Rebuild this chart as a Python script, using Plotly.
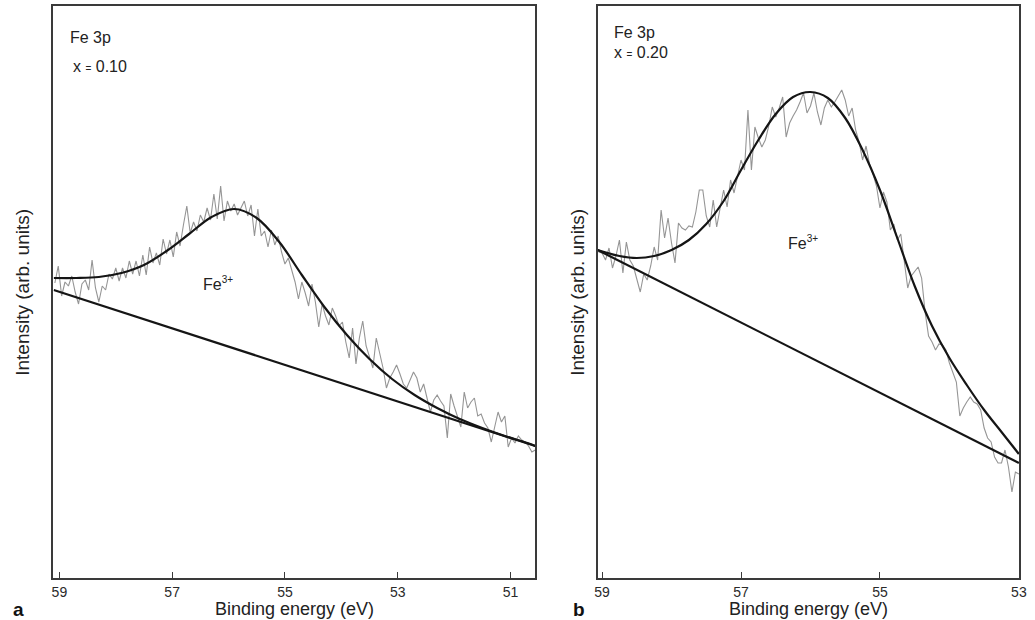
import numpy as np
import plotly.graph_objects as go

W, H = 1035, 620

# ---------------- Panel a (x = 0.10) ----------------
a_start, a_step = 59.08, 0.06
a_data = [295, 312, 282, 296, 292, 302, 286, 274, 294, 298, 288, 318, 290, 276, 292, 288, 304, 299, 310, 297,
          310, 300, 317, 304, 317, 302, 323, 303, 331, 315, 325, 313, 339, 324, 338, 321, 346, 332, 353, 372,
          345, 356, 347, 363, 356, 370, 358, 384, 359, 392, 357, 377, 367, 374, 363, 370, 377, 362, 373, 342,
          369, 342, 347, 331, 348, 333, 342, 326, 314, 320, 309, 296, 279, 296, 285, 272, 294, 276, 251, 274,
          262, 253, 270, 262, 252, 256, 236, 220, 250, 214, 240, 257, 232, 220, 210, 240, 226, 210, 190, 200,
          206, 213, 204, 194, 190, 198, 206, 200, 186, 194, 180, 166, 178, 183, 177, 172, 140, 184, 172, 162,
          151, 186, 170, 176, 180, 162, 164, 155, 150, 136, 150, 166, 156, 162, 131, 140, 135, 142, 138, 136,
          132, 126, 128]
a_fit_x = [59.1, 58.7, 58.3, 57.9, 57.5, 57.1, 56.7, 56.3, 55.9, 55.5, 55.1, 54.7, 54.3, 53.9, 53.5,
           53.1, 52.7, 52.3, 51.9, 51.5, 51.1, 50.7, 50.56]
a_fit_y = [300, 300, 301, 305, 313, 327, 344, 361, 369, 360, 336, 303, 271, 243, 219,
           199, 183, 170, 159, 150, 142, 135, 132]
a_bg_x = [59.1, 50.56]
a_bg_y = [288, 132]
a_ticks = [59, 57, 55, 53, 51]
a_range = [59.105, 50.56]

# ---------------- Panel b (x = 0.20) ----------------
b_start, b_step = 59.05, 0.05
b_data = [326, 325, 318, 330, 310, 322, 338, 305, 336, 318, 312, 300, 286, 304, 298, 312, 331, 318, 368, 340,
          360, 335, 315, 355, 350, 348, 352, 351, 366, 388, 388, 362, 351, 378, 351, 370, 388, 371, 398, 385,
          402, 418, 408, 468, 408, 451, 440, 431, 438, 452, 471, 461, 470, 481, 441, 455, 462, 468, 476, 485,
          465, 472, 485, 466, 453, 470, 478, 471, 476, 482, 488, 478, 462, 470, 448, 436, 418, 432, 414, 404,
          392, 370, 386, 376, 348, 354, 338, 344, 314, 290, 302, 306, 311, 300, 266, 242, 236, 228, 234, 233,
          228, 215, 206, 196, 162, 170, 176, 181, 176, 174, 168, 150, 140, 136, 121, 115, 115, 128, 111, 86,
          106, 104]
b_fit_x = [59.064, 58.75, 58.5, 58.25, 58.0, 57.75, 57.5, 57.25, 57.0, 56.75, 56.5, 56.25, 56.0, 55.75,
           55.5, 55.25, 55.0, 54.75, 54.5, 54.25, 54.0, 53.75, 53.5, 53.25, 53.0]
b_fit_y = [328, 322, 320, 322, 328, 338, 354, 377, 408, 438, 464, 481, 486, 480,
           460, 428, 388, 340, 292, 252, 220, 193, 168, 146, 124]
b_bg_x = [59.064, 53.0]
b_bg_y = [328, 115]
b_ticks = [59, 57, 55, 53]
b_range = [59.064, 52.997]

y_range = [0, 572]

FONT = "Liberation Sans, Arial, sans-serif"
DATA_COLOR = "#959595"
FIT_COLOR = "#151515"
AX_COLOR = "#3a3a3a"

fig = go.Figure()

def add_panel(xs, ys, fx, fy, bx, by, xa, ya):
    fig.add_trace(go.Scatter(x=xs, y=ys, mode="lines", line=dict(color=DATA_COLOR, width=1.1),
                             xaxis=xa, yaxis=ya, showlegend=False, hoverinfo="skip"))
    fig.add_trace(go.Scatter(x=bx, y=by, mode="lines", line=dict(color=FIT_COLOR, width=2.2),
                             xaxis=xa, yaxis=ya, showlegend=False, hoverinfo="skip"))
    fig.add_trace(go.Scatter(x=fx, y=fy, mode="lines", line=dict(color=FIT_COLOR, width=2.2, shape="spline", smoothing=1.0),
                             xaxis=xa, yaxis=ya, showlegend=False, hoverinfo="skip"))

ax_x = np.round(a_start - a_step * np.arange(len(a_data)), 3)
bx_x = np.round(b_start - b_step * np.arange(len(b_data)), 3)
add_panel(ax_x, a_data, a_fit_x, a_fit_y, a_bg_x, a_bg_y, "x", "y")
add_panel(bx_x, b_data, b_fit_x, b_fit_y, b_bg_x, b_bg_y, "x2", "y2")

def px(v):
    return v / W

def py(v):
    return 1 - v / H

ydom = [py(578), py(6)]
common_x = dict(showline=True, linecolor=AX_COLOR, linewidth=1.5, mirror=True, ticks="inside", ticklen=6,
                tickwidth=1.2, tickcolor=AX_COLOR, showgrid=False, zeroline=False,
                tickfont=dict(family=FONT, size=14, color="#2a2a2a"))
common_y = dict(showline=True, linecolor=AX_COLOR, linewidth=1.5, mirror=True, ticks="", showticklabels=False,
                showgrid=False, zeroline=False, range=y_range)

fig.update_layout(
    width=W, height=H, margin=dict(l=0, r=0, t=0, b=0),
    paper_bgcolor="white", plot_bgcolor="white",
    xaxis=dict(domain=[px(51), px(538)], range=a_range, tickvals=a_ticks, anchor="y", **common_x),
    yaxis=dict(domain=ydom, anchor="x", **common_y),
    xaxis2=dict(domain=[px(601), px(1027)], range=b_range, tickvals=b_ticks, anchor="y2", **common_x),
    yaxis2=dict(domain=ydom, anchor="x2", **common_y),
)

def ann(text, x, y, size=14, xanchor="left", angle=0, bold=False, color="#222"):
    fig.add_annotation(text=f"<b>{text}</b>" if bold else text, x=px(x), y=py(y), xref="paper", yref="paper",
                       showarrow=False, xanchor=xanchor, yanchor="middle", textangle=angle,
                       font=dict(family=FONT, size=size, color=color))

small_eq = '<span style="font-size:10px">=</span>'
sup = '<sup><span style="font-size:10px">3+</span></sup>'
ann("Fe 3p", 66, 37, 16)
ann(f"x {small_eq} 0.10", 69, 67, 16)
ann("Fe 3p", 616, 32, 16)
ann(f"x {small_eq} 0.20", 616, 53, 16)
ann("Fe" + sup, 200, 283, 16)
ann("Fe" + sup, 791, 243, 16)
ann("Binding energy (eV)", 295, 609, 18, xanchor="center")
ann("Binding energy (eV)", 814, 609, 18, xanchor="center")
ann("Intensity (arb. units)", 19, 292, 19, xanchor="center", angle=-90)
ann("Intensity (arb. units)", 580, 292, 19, xanchor="center", angle=-90)
ann("a", 16, 609, 19, xanchor="center", bold=True, color="#111")
ann("b", 582, 609, 19, xanchor="center", bold=True, color="#111")

fig.write_html("out.html")
